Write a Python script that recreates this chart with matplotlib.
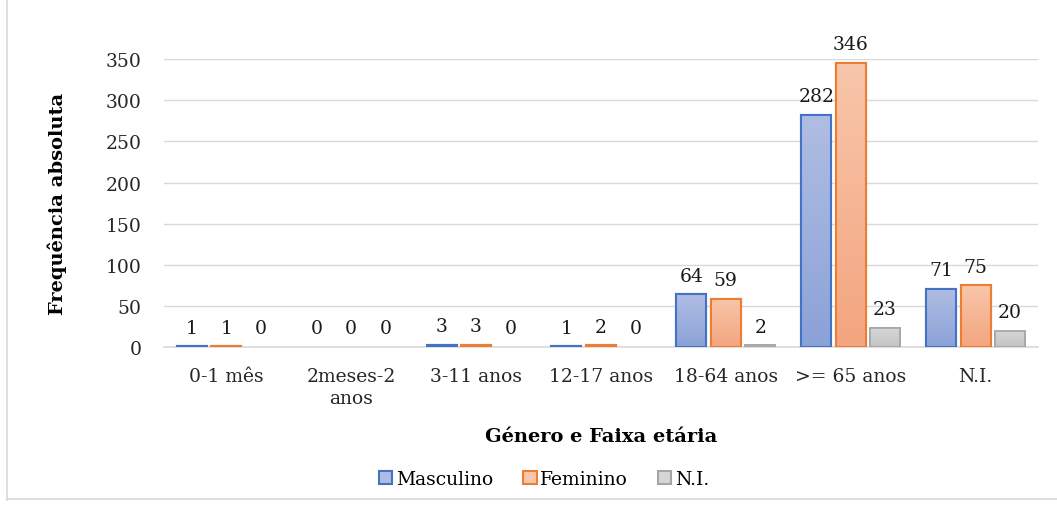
import numpy as np
import matplotlib
matplotlib.use("Agg")
import matplotlib.pyplot as plt
from matplotlib.colors import LinearSegmentedColormap
from matplotlib.patches import Patch
from matplotlib.lines import Line2D

# data
categorias = ['0-1 mês', '2meses-2\nanos', '3-11 anos', '12-17 anos',
              '18-64 anos', '>= 65 anos', 'N.I.']
masculino = [1, 0, 3, 1, 64, 282, 71]
feminino = [1, 0, 3, 2, 59, 346, 75]
ni = [0, 0, 0, 0, 2, 23, 20]
series_nomes = ['Masculino', 'Feminino', 'N.I.']

plt.rcParams['font.family'] = ['DejaVu Serif']

# top colour, bottom colour, edge colour
estilos = [('#b0bde3', '#8ba2d8', '#4472c4'),
           ('#f8c6ab', '#f4a57f', '#ed7d31'),
           ('#d6d6d6', '#c4c4c4', '#a5a5a5')]

fig = plt.figure(figsize=(10.57, 5.06), dpi=100)
ax = fig.add_axes([0.155, 0.312, 0.827, 0.569])

x = np.arange(len(categorias))
w = 0.24
passo = 0.276
grad = np.linspace(0, 1, 64).reshape(-1, 1)

for i, (vals, (c_top, c_bot, c_edge)) in enumerate(zip([masculino, feminino, ni], estilos)):
    xs = x + (i - 1) * passo
    cmap = LinearSegmentedColormap.from_list('g%d' % i, [c_bot, c_top])
    vals = np.array(vals)
    pos = vals > 0
    lw = 1.5 if i < 2 else 1.2
    ax.bar(xs[pos], vals[pos], width=w, color=c_bot, edgecolor=c_edge, linewidth=lw, zorder=3)
    for xi, v in zip(xs, vals):
        if v > 0:
            ax.imshow(grad, extent=[xi - w / 2, xi + w / 2, 0, v], origin='lower',
                      cmap=cmap, aspect='auto', zorder=3.5, interpolation='bilinear')
        ax.annotate(str(v), (xi, v), xytext=(0, 7), textcoords='offset points',
                    ha='center', va='bottom', fontsize=13.5, color='#1a1a1a')
    ax.bar(xs[pos], vals[pos], width=w, fill=False, edgecolor=c_edge, linewidth=lw, zorder=4)

ax.set_xlim(-0.5, len(categorias) - 0.5)
ax.set_ylim(0, 350)
ax.set_yticks(np.arange(0, 351, 50))
ax.yaxis.grid(True, color='#d9d9d9', linewidth=1)
ax.set_axisbelow(True)
for s in ['top', 'right', 'left']:
    ax.spines[s].set_visible(False)
ax.spines['bottom'].set_color('#d9d9d9')
ax.spines['bottom'].set_linewidth(1.2)
ax.tick_params(axis='both', length=0, labelsize=13.5, colors='#262626')
ax.tick_params(axis='y', pad=16)
ax.tick_params(axis='x', pad=14)
ax.set_xticks(x)
ax.set_xticklabels(categorias, linespacing=1.35)

ax.set_ylabel('Frequência absoluta', fontsize=14, fontweight='bold', labelpad=28)
ax.set_xlabel('Género e Faixa etária', fontsize=14, fontweight='bold', labelpad=14)

handles = [Patch(facecolor=c[0], edgecolor=c[2], linewidth=1.5) for c in estilos]
fig.legend(handles, series_nomes, loc='center', bbox_to_anchor=(0.515, 0.052), ncol=3,
           frameon=False, fontsize=13.5, handlelength=0.7, handleheight=0.7,
           handletextpad=0.2, columnspacing=1.6)

# outer chart frame
fig.add_artist(Line2D([0.007, 0.007], [0.01, 1.0], color='#d9d9d9', linewidth=1.2))
fig.add_artist(Line2D([0.007, 1.0], [0.012, 0.012], color='#d9d9d9', linewidth=1.2))

fig.savefig('out.png', dpi=100)
